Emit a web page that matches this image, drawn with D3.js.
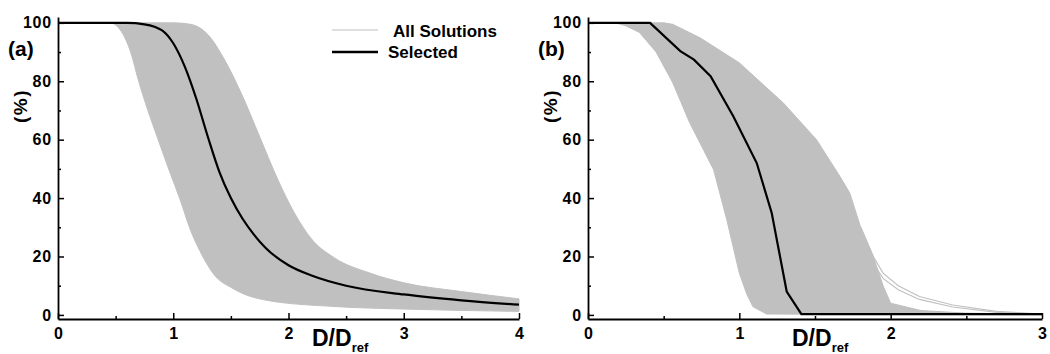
<!DOCTYPE html>
<html>
<head>
<meta charset="utf-8">
<script src="https://cdn.jsdelivr.net/npm/d3@7"></script>
<style>
body { margin: 0; background: #fff; }
svg text { font-family: "Liberation Sans", Arial, sans-serif; font-weight: bold; fill: #000; }
</style>
</head>
<body>
<svg width="1050" height="354"></svg>
<script>
// panel (a) : [D/Dref, %]
const aSelected = [[0,100],[0.6,100],[0.75,99.5],[0.9,97.5],[1.0,93],[1.1,85],[1.2,74],[1.3,61],[1.4,49],[1.5,40],[1.6,33],[1.7,27.5],[1.8,23],[2.0,17],[2.2,13.5],[2.5,10],[3.0,7],[3.5,5],[4.0,3.5]];
const aUpper = [[0,100],[1.0,100],[1.15,99.5],[1.3,96],[1.45,87],[1.6,75],[1.75,61],[1.9,47],[2.05,35],[2.2,26],[2.4,19.5],[2.7,14.4],[3.0,11],[3.5,8],[4.0,5.5]];
const aLower = [[0,100],[0.45,100],[0.55,97],[0.63,90],[0.7,80],[0.78,70],[0.86,61],[0.96,50],[1.06,39.4],[1.15,29],[1.23,22],[1.35,14],[1.52,9],[1.81,5],[2.39,2.9],[3.0,2],[4.0,1.2]];

// panel (b)
const bSelected = [[0,100],[0.41,100],[0.61,90.3],[0.70,87.4],[0.81,81.7],[0.96,68],[1.115,52],[1.214,34.9],[1.313,8],[1.41,0.3],[3.0,0.3]];
const bUpper = [[0,100],[0.5,100],[0.56,99.5],[0.74,94.9],[1.0,86.3],[1.29,72.6],[1.51,60],[1.665,47.4],[1.73,41.7],[1.8,30.3],[1.885,20],[1.95,10],[2.0,4],[2.2,1.5],[2.5,0.6],[3.0,0.2]];
const bLower = [[0,100],[0.18,100],[0.25,99],[0.34,96.7],[0.45,90],[0.56,79.5],[0.67,66],[0.83,49.7],[0.917,32.6],[1.0,14.3],[1.05,7],[1.09,2.8],[1.18,0.3],[3.0,0]];
const bOutliers = [
    [[1.8,30.3],[1.885,20],[1.95,14.3],[2.05,10],[2.19,6.3],[2.41,3.4],[2.7,1.2],[3.0,0.3]],
    [[1.8,29],[1.88,18],[1.95,12.5],[2.05,8.6],[2.19,5.3],[2.41,2.7],[2.7,0.9],[3.0,0.2]]
];

const yTicks = [0, 20, 40, 60, 80, 100];
const yMinor = [10, 30, 50, 70, 90];

const svg = d3.select('svg');

const panel = p => {
    const xScale = d3.scaleLinear().domain([0, p.xMax]).range([p.left, p.right]);
    const yScale = d3.scaleLinear().domain([-1.4, 102]).range([319, 17]);

    const g = svg.append('g');

    const curve = p.smooth ? d3.curveMonotoneX : d3.curveLinear;
    const line = d3.line()
        .x(d => xScale(d[0]))
        .y(d => yScale(d[1]))
        .curve(curve);

    // band of all solutions
    const up = line(p.upper);
    const lo = line(p.lower.slice().reverse());
    g.append('path')
        .attr('d', up + 'L' + lo.slice(1) + 'Z')
        .attr('fill', '#c0c0c0')
        .attr('stroke', '#c0c0c0')
        .attr('stroke-width', 1);

    (p.outliers || []).forEach(o => {
        g.append('path')
            .attr('d', line(o))
            .attr('fill', 'none')
            .attr('stroke', '#c0c0c0')
            .attr('stroke-width', 1.2);
    });

    g.append('path')
        .attr('d', line(p.selected))
        .attr('fill', 'none')
        .attr('stroke', '#000')
        .attr('stroke-width', 2.2);

    // axes
    const xTicks = d3.range(0, p.xMax + 0.01, 1);
    const xMinor = d3.range(0.5, p.xMax, 1);

    g.append('g')
        .attr('transform', 'translate(0,319)')
        .call(d3.axisBottom(xScale).tickValues(xTicks).tickFormat(d3.format('d'))
            .tickSizeInner(-6).tickSizeOuter(0).tickPadding(9));
    g.append('g')
        .attr('transform', 'translate(0,319)')
        .call(d3.axisBottom(xScale).tickValues(xMinor).tickFormat('')
            .tickSizeInner(-3).tickSizeOuter(0))
        .select('.domain').remove();

    const yAxisG = g.append('g')
        .attr('transform', `translate(${p.left},0)`)
        .call(d3.axisLeft(yScale).tickValues(yTicks)
            .tickSizeInner(-6).tickSizeOuter(0).tickPadding(6));
    g.append('g')
        .attr('transform', `translate(${p.left},0)`)
        .call(d3.axisLeft(yScale).tickValues(yMinor).tickFormat('')
            .tickSizeInner(-3).tickSizeOuter(0))
        .select('.domain').remove();

    g.selectAll('g').attr('font-family', null).attr('font-size', null);
    g.selectAll('.domain').attr('stroke-width', 1.8);
    g.selectAll('.tick line').attr('stroke-width', 1.5);
    g.selectAll('.tick text').style('font-size', '16px');
    yAxisG.selectAll('.tick text').style('letter-spacing', '0.8px');

    // labels
    g.append('text')
        .attr('x', p.left - 50)
        .attr('y', 56)
        .style('font-size', '21px')
        .text(p.tag);

    g.append('text')
        .attr('transform', `translate(${p.left - 31},106) rotate(-90)`)
        .style('text-anchor', 'middle')
        .style('font-size', '19px')
        .style('letter-spacing', '1.5px')
        .text('(%)');

    const xl = g.append('text')
        .attr('x', p.xLabel)
        .attr('y', 345.5)
        .style('font-size', '23px')
        .text('D/D');
    xl.append('tspan')
        .attr('dy', 6)
        .style('font-size', '13px')
        .text('ref');
};

panel({ tag: '(a)', left: 58, right: 519, xMax: 4, xLabel: 312, smooth: true,
        selected: aSelected, upper: aUpper, lower: aLower });
panel({ tag: '(b)', left: 588, right: 1042, xMax: 3, xLabel: 792, smooth: false,
        selected: bSelected, upper: bUpper, lower: bLower, outliers: bOutliers });

// legend
const legend = svg.append('g');
legend.append('line')
    .attr('x1', 332).attr('x2', 378).attr('y1', 30).attr('y2', 30)
    .attr('stroke', '#c0c0c0').attr('stroke-width', 1.2);
legend.append('text')
    .attr('x', 393).attr('y', 36.5)
    .style('font-size', '17px')
    .text('All Solutions');
legend.append('line')
    .attr('x1', 332).attr('x2', 378).attr('y1', 52).attr('y2', 52)
    .attr('stroke', '#000').attr('stroke-width', 2.5);
legend.append('text')
    .attr('x', 388).attr('y', 58)
    .style('font-size', '17px')
    .text('Selected');
</script>
</body>
</html>
